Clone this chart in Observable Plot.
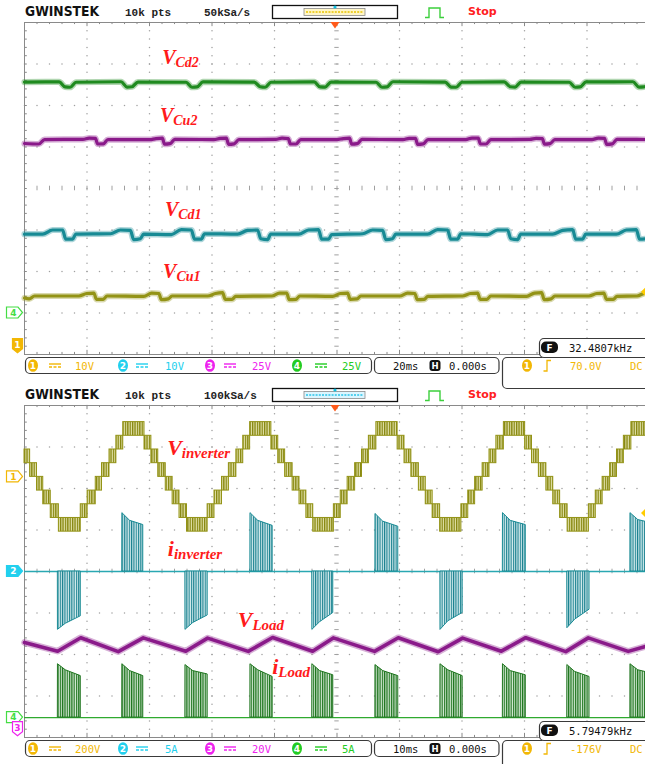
<!DOCTYPE html>
<html>
<head>
<meta charset="utf-8">
<script src="https://cdn.jsdelivr.net/npm/d3@7"></script>
<script src="https://cdn.jsdelivr.net/npm/@observablehq/plot@0.6"></script>
<style>
  html, body { margin: 0; padding: 0; background: #fff; }
  #page { position: relative; width: 645px; height: 764px; overflow: hidden; background: #fff; }
  #page > svg { position: absolute; left: 0; }
</style>
</head>
<body>
<div id="page">
<svg width="0" height="0" style="position:absolute">
  <defs>
    <!-- dense PWM switching drawn as vertical hatching -->
    <pattern id="pwmOlive" patternUnits="userSpaceOnUse" width="2.4" height="10">
      <rect width="2.4" height="10" fill="#e3e3ad"/>
      <rect width="1.3" height="10" fill="#85850c"/>
    </pattern>
    <pattern id="pwmTeal" patternUnits="userSpaceOnUse" width="2.3" height="10">
      <rect width="2.3" height="10" fill="#d2eaec"/>
      <rect width="1.1" height="10" fill="#1b8290"/>
    </pattern>
    <pattern id="pwmGreen" patternUnits="userSpaceOnUse" width="2.3" height="10">
      <rect width="2.3" height="10" fill="#d3e8d3"/>
      <rect width="1.2" height="10" fill="#1f761f"/>
    </pattern>
  </defs>
</svg>
</div>
<script>
// ================= Capture A: capacitor voltages, 20 ms/div =================
const capMsPerDiv = 20;

// VCd2 (CH4)
const capVCd2T = [0, 11.1, 13.0, 14.6, 16.5, 30.9, 32.8, 34.4, 36.3, 51.7, 53.6, 55.2, 57.1, 73.5, 75.4, 77.0, 78.9, 92.7, 94.6, 96.2, 98.1, 112.5, 114.4, 116.0, 117.9, 134.6, 136.5, 138.1, 140.0, 153.5, 155.4, 157.0, 158.9, 174.3, 176.2, 177.8, 179.7, 194.7, 196.6, 198.2, 200];
const capVCd2V = [139.1, 139.2, 136.2, 136.0, 139.0, 139.3, 136.1, 136.3, 139.1, 139.0, 136.0, 136.2, 139.2, 139.1, 136.3, 136.0, 139.0, 139.2, 136.2, 136.1, 139.1, 139.0, 136.0, 136.2, 139.3, 139.1, 136.1, 136.0, 139.0, 139.2, 136.3, 136.1, 139.1, 139.0, 136.0, 136.2, 139.2, 139.3, 136.1, 136.2, 138.0];

// VCu2 (CH3)
const capVCu2T = [0, 4.6, 6.4, 18.7, 20.7, 22.7, 23.4, 25.2, 26.7, 40.1, 42.1, 44.1, 44.8, 46.6, 48.1, 60.6, 62.6, 64.6, 65.3, 67.1, 68.6, 80.4, 82.4, 84.4, 85.1, 86.9, 88.4, 100.0, 102.0, 104.0, 104.7, 106.5, 108.0, 121.1, 123.1, 125.1, 125.8, 127.6, 129.1, 141.2, 143.2, 145.2, 145.9, 147.7, 149.2, 161.7, 163.7, 165.7, 166.4, 168.2, 169.7, 181.6, 183.6, 185.6, 186.3, 188.1, 189.6, 200];
const capVCu2V = [149.6, 149.3, 152.0, 152.1, 152.8, 152.7, 149.3, 149.4, 152.0, 151.9, 152.6, 152.8, 149.2, 149.5, 152.1, 152.0, 152.7, 152.9, 149.1, 149.4, 151.9, 152.1, 152.8, 152.6, 149.3, 149.3, 152.0, 152.0, 152.6, 152.8, 149.2, 149.5, 152.1, 151.9, 152.7, 152.7, 149.1, 149.4, 152.0, 152.0, 152.9, 152.8, 149.3, 149.3, 151.9, 152.1, 152.7, 152.6, 149.2, 149.5, 152.0, 152.0, 152.8, 152.7, 149.1, 149.4, 152.1, 152.0];

// VCd1 (CH2)
const capVCd1T = [0, 5.8, 9.0, 12.2, 13.2, 15.4, 16.4, 27.5, 30.7, 33.9, 34.9, 37.1, 38.1, 47.0, 50.2, 53.4, 54.4, 56.6, 57.6, 68.2, 71.4, 74.6, 75.6, 77.8, 78.8, 87.7, 90.9, 94.1, 95.1, 97.3, 98.3, 108.2, 111.4, 114.6, 115.6, 117.8, 118.8, 129.0, 132.2, 135.4, 136.4, 138.6, 139.6, 148.2, 151.4, 154.6, 155.6, 157.8, 158.8, 169.0, 172.2, 175.4, 176.4, 178.6, 179.6, 189.4, 192.6, 195.8, 196.8, 199.0, 200];
const capVCd1V = [38.0, 38.0, 39.0, 39.0, 36.8, 36.8, 38.0, 38.1, 39.0, 38.9, 36.7, 36.9, 38.0, 37.9, 39.1, 39.0, 36.8, 36.8, 38.1, 38.0, 38.9, 39.0, 36.9, 36.7, 38.0, 38.0, 39.0, 39.1, 36.8, 36.8, 37.9, 38.1, 39.0, 38.9, 36.7, 36.9, 38.0, 38.0, 39.1, 39.0, 36.8, 36.8, 38.1, 37.9, 39.0, 39.0, 36.9, 36.7, 38.0, 38.0, 38.9, 39.1, 36.8, 36.8, 38.0, 38.0, 39.0, 39.1, 36.8, 36.9, 37.4];

// VCu1 (CH1)
const capVCu1T = [0, 1.5, 3.2, 17.4, 19.9, 22.2, 23.0, 25.2, 26.4, 38.2, 40.7, 43.0, 43.8, 46.0, 47.2, 58.6, 61.1, 63.4, 64.2, 66.4, 67.6, 79.1, 81.6, 83.9, 84.7, 86.9, 88.1, 98.6, 101.1, 103.4, 104.2, 106.4, 107.6, 120.1, 122.6, 124.9, 125.7, 127.9, 129.1, 140.2, 142.7, 145.0, 145.8, 148.0, 149.2, 160.7, 163.2, 165.5, 166.3, 168.5, 169.7, 180.6, 183.1, 185.4, 186.2, 188.4, 189.6, 196.0, 198.5, 200];
const capVCu1V = [11.6, 11.4, 12.1, 12.1, 12.7, 12.8, 11.3, 11.3, 12.1, 12.0, 12.8, 12.7, 11.2, 11.4, 12.1, 12.1, 12.7, 12.9, 11.3, 11.3, 12.0, 12.1, 12.8, 12.8, 11.2, 11.3, 12.1, 12.0, 12.7, 12.8, 11.3, 11.4, 12.1, 12.1, 12.8, 12.7, 11.2, 11.3, 12.0, 12.1, 12.7, 12.8, 11.3, 11.3, 12.1, 12.0, 12.8, 12.9, 11.2, 11.4, 12.1, 12.1, 12.7, 12.8, 11.3, 11.3, 12.0, 12.1, 12.8, 12.9];

// channel settings: ground position (div) and volts per division
const capCh1 = {pos: -3.8, scale: 10};
const capCh2 = {pos: -4.9, scale: 10};
const capCh3 = {pos: -4.9, scale: 25};
const capCh4 = {pos: -3.0, scale: 25};

const capLabels = [
  {main: "V", sub: "Cd2", t: 44.2, y: 2.98},
  {main: "V", sub: "Cu2", t: 43.5, y: 1.59},
  {main: "V", sub: "Cd1", t: 45.1, y: -0.68},
  {main: "V", sub: "Cu1", t: 44.5, y: -2.17}
];

// ================= Capture B: inverter & load, 10 ms/div =================
const invMsPerDiv = 10;

// staircase output: band edges (ms) and lower level index of each band
const invEdges = [0, 0.9, 2.0, 3.0, 4.2, 5.5, 9.0, 10.1, 11.4, 12.4, 13.6, 14.7, 15.8, 19.2, 20.3, 21.4, 22.6, 23.7, 24.8, 26.0, 29.3, 30.4, 31.6, 32.7, 33.9, 35.0, 36.1, 39.5, 40.6, 41.7, 42.9, 44.0, 45.1, 46.2, 49.5, 50.6, 51.7, 52.9, 54.0, 55.1, 56.3, 59.7, 60.8, 61.9, 63.1, 64.2, 65.3, 66.5, 69.9, 71.0, 72.1, 73.3, 74.4, 75.5, 76.7, 80.1, 81.2, 82.3, 83.5, 84.6, 85.7, 86.9, 90.3, 91.4, 92.5, 93.7, 94.8, 95.9, 97.1, 100];
const invLevel = [1, 0, -1, -2, -3, -4,
  -3, -2, -1, 0, 1, 2, 3,  2, 1, 0, -1, -2, -3, -4,
  -3, -2, -1, 0, 1, 2, 3,  2, 1, 0, -1, -2, -3, -4,
  -3, -2, -1, 0, 1, 2, 3,  2, 1, 0, -1, -2, -3, -4,
  -3, -2, -1, 0, 1, 2, 3,  2, 1, 0, -1, -2, -3, -4,
  -3, -2, -1, 0, 1, 2, 3];
const cellVolts = 66;

// switching bursts (ms): start, knee, end
const burstStart = [5.4, 15.7, 25.8, 36.2, 46.1, 56.2, 66.6, 76.6, 86.9, 97.0];
const burstKnee  = [6.6, 16.9, 27.0, 37.4, 47.3, 57.4, 67.8, 77.8, 88.1, 98.2];
const burstEnd   = [9.0, 19.0, 29.3, 39.7, 49.4, 59.8, 70.1, 80.2, 90.4, 100.4];

// inverter current envelope (A)
const iInvPeak = [-7.0, 7.0, -7.0, 7.0, -7.0, 6.9, -7.0, 7.0, -6.8, 7.0];
const iInvKnee = [-6.3, 6.1, -6.2, 6.1, -6.1, 6.0, -6.0, 6.1, -5.8, 6.2];
const iInvTail = [-5.4, 5.6, -5.3, 5.5, -5.0, 5.4, -5.0, 5.6, -4.6, 5.8];

// load current envelope (A)
const iLoadPeak = [6.4, 6.4, 6.3, 6.4, 6.4, 6.3, 6.4, 6.4, 6.3, 6.4];
const iLoadKnee = [5.7, 5.6, 5.6, 5.7, 5.6, 5.6, 5.7, 5.6, 5.5, 5.7];
const iLoadTail = [5.0, 5.0, 5.2, 4.9, 5.1, 5.0, 5.0, 5.1, 4.9, 5.3];

// load voltage (V)
const vLoadT = [0, 5.3, 9.0, 15.0, 19.0, 25.8, 29.3, 35.8, 39.7, 46.1, 49.4, 56.0, 59.8, 66.2, 70.1, 76.3, 80.2, 86.6, 90.2, 96.6, 100];
const vLoadV = [41.8, 37.6, 44.1, 37.4, 44.0, 37.6, 43.9, 37.5, 44.2, 37.6, 44.0, 37.5, 44.1, 37.3, 43.9, 37.6, 44.1, 37.4, 44.0, 37.5, 40.4];

const invCh1 = {pos: 2.28, scale: 200};
const invCh2 = {pos: 0, scale: 5};
const invCh3 = {pos: -3.8, scale: 20};
const invCh4 = {pos: -3.52, scale: 5};

const invLabels = [
  {main: "V", sub: "inverter", t: 22.9, y: 2.80},
  {main: "i", sub: "inverter", t: 23.0, y: 0.35},
  {main: "V", sub: "Load", t: 34.2, y: -1.36},
  {main: "i", sub: "Load", t: 39.7, y: -2.47}
];

// ================= drawing =================
const COL = {
  olive: "#939316", teal: "#178a94", purple: "#8a1a8a", green: "#1f8a1f",
  tealBase: "#2aa8b2", greenBase: "#2faa2f",
  ch1: "#f2b705", ch2: "#22d0ee", ch3: "#ee22ee", ch4: "#22cc22"
};

function graticule(m) {
  const fx = d3.range(0, 51).map(i => i / 5);
  const fy = d3.range(-20, 21).map(i => i / 5);
  const rows = [-3, -2, -1, 1, 2, 3].flatMap(r => fx.map(d => ({x: d * m, y: r})));
  const cols = [1, 2, 3, 4, 6, 7, 8, 9].flatMap(c => fy.map(d => ({x: c * m, y: d})));
  const g = "#a0a0a0", e = "#8a8a8a";
  return [
    Plot.dot([...rows, ...cols], {x: "x", y: "y", r: 0.75, fill: g}),
    Plot.ruleX(fx, {x: d => d * m, y1: -0.055, y2: 0.055, stroke: g}),
    Plot.ruleY(fy, {y: d => d, x1: 5 * m - 0.035 * m, x2: 5 * m + 0.035 * m, stroke: g}),
    Plot.ruleX([0], {stroke: e}),
    Plot.ruleY([-4, 4], {stroke: e}),
    Plot.ruleX(fx, {x: d => d * m, y1: 4, y2: d => Number.isInteger(d) ? 3.9 : 3.95, stroke: e}),
    Plot.ruleX(fx, {x: d => d * m, y1: -4, y2: d => Number.isInteger(d) ? -3.9 : -3.95, stroke: e}),
    Plot.ruleY(fy, {y: d => d, x1: 0, x2: 0.045 * m, stroke: e})
  ];
}

function trace(T, V, ch, color, w = 3.2, curve = "monotone-x") {
  const data = T.map((t, i) => ({t, v: V[i]}));
  const y = d => ch.pos + d.v / ch.scale;
  return [
    Plot.line(data, {x: "t", y, curve, stroke: color, strokeWidth: w + 3, strokeOpacity: 0.35}),
    Plot.line(data, {x: "t", y, curve, stroke: color, strokeWidth: w})
  ];
}

function bursts(peak, knee, tail, ch, fill, color) {
  const pts = burstStart.flatMap((s, g) => [
    {g, t: s, v: peak[g]}, {g, t: burstKnee[g], v: knee[g]}, {g, t: burstEnd[g], v: tail[g]}
  ]);
  return Plot.area(pts, {
    x1: "t", y1: () => ch.pos, y2: d => ch.pos + d.v / ch.scale, z: "g",
    fill, stroke: color, strokeWidth: 1
  });
}

function panel(m, marks) {
  const svg = Plot.plot({
    width: 650, height: 360,
    marginLeft: 24, marginRight: 1, marginTop: 22, marginBottom: 6,
    x: {domain: [0, 10 * m], axis: null},
    y: {domain: [-4, 4], axis: null},
    marks: [...graticule(m), ...marks]
  });
  svg.style.maxWidth = "none";
  svg.style.width = "650px";
  svg.style.height = "360px";
  svg.style.background = "transparent";
  return svg;
}

const plotA = panel(capMsPerDiv, [
  ...trace(capVCd2T, capVCd2V, capCh4, COL.green),
  ...trace(capVCu2T, capVCu2V, capCh3, COL.purple),
  ...trace(capVCd1T, capVCd1V, capCh2, COL.teal),
  ...trace(capVCu1T, capVCu1V, capCh1, COL.olive)
]);

const bands = invLevel.map((k, i) => ({t1: invEdges[i], t2: invEdges[i + 1], lo: k * cellVolts, hi: (k + 1) * cellVolts}));

const plotB = panel(invMsPerDiv, [
  Plot.rect(bands, {
    x1: "t1", x2: "t2",
    y1: d => invCh1.pos + d.lo / invCh1.scale, y2: d => invCh1.pos + d.hi / invCh1.scale,
    fill: "url(#pwmOlive)", stroke: COL.olive, strokeWidth: 1
  }),
  Plot.ruleY([0], {y: d => invCh2.pos + d / invCh2.scale, stroke: COL.tealBase, strokeWidth: 1.4}),
  bursts(iInvPeak, iInvKnee, iInvTail, invCh2, "url(#pwmTeal)", COL.teal),
  ...trace(vLoadT, vLoadV, invCh3, COL.purple, 3.6, "linear"),
  Plot.ruleY([0], {y: d => invCh4.pos + d / invCh4.scale, stroke: COL.greenBase, strokeWidth: 1.4}),
  bursts(iLoadPeak, iLoadKnee, iLoadTail, invCh4, "url(#pwmGreen)", "#1f761f")
]);

const page = d3.select("#page");
plotA.style.top = "0px";
plotB.style.top = "383px";
page.node().append(plotA, plotB);

// ---------- scope chrome overlay ----------
const ov = page.append("svg").attr("width", 645).attr("height", 764).style("top", "0px");
const MONO = "'DejaVu Sans Mono', monospace";

function header(oy, rate, memFill, memLine) {
  const g = ov.append("g").attr("transform", `translate(0,${oy})`);
  g.append("text").attr("x", 25).attr("y", 16).attr("font-family", "'DejaVu Sans', sans-serif")
    .attr("font-weight", "bold").attr("font-size", 13.5).attr("textLength", 74)
    .attr("lengthAdjust", "spacingAndGlyphs").attr("fill", "#111").text("GWINSTEK");
  g.append("text").attr("x", 125).attr("y", 15.5).attr("font-family", "'Liberation Mono', monospace")
    .attr("font-weight", "bold").attr("font-size", 11).attr("fill", "#222").text("10k pts");
  g.append("text").attr("x", 204).attr("y", 15.5).attr("font-family", "'Liberation Mono', monospace")
    .attr("font-weight", "bold").attr("font-size", 11).attr("fill", "#222").text(rate);
  g.append("rect").attr("x", 272.5).attr("y", 5.5).attr("width", 125).attr("height", 13)
    .attr("fill", "#fff").attr("stroke", "#111").attr("stroke-width", 1.3);
  g.append("rect").attr("x", 304).attr("y", 8.5).attr("width", 61).attr("height", 7)
    .attr("fill", memFill).attr("stroke", "#8a8a8a").attr("stroke-width", 0.8);
  g.append("line").attr("x1", 306).attr("x2", 363).attr("y1", 12).attr("y2", 12)
    .attr("stroke", memLine).attr("stroke-width", 1.4).attr("stroke-dasharray", "2 1.2");
  g.append("circle").attr("cx", 335).attr("cy", 7).attr("r", 1.6).attr("fill", "#10c0e0");
  g.append("path").attr("d", "M425,17.5 H429 V8 H440 V17.5 H444").attr("fill", "none")
    .attr("stroke", "#3ccf3c").attr("stroke-width", 1.4);
  g.append("text").attr("x", 468).attr("y", 15).attr("font-family", "'DejaVu Sans', sans-serif")
    .attr("font-weight", "bold").attr("font-size", 11).attr("fill", "#ff2020").text("Stop");
  g.append("path").attr("d", "M330.5,22 H339.5 L335,28.5 Z").attr("fill", "#ff5a1a");
}

function chip(g, cx, cy, color, digit) {
  g.append("ellipse").attr("cx", cx).attr("cy", cy).attr("rx", 5).attr("ry", 6.3).attr("fill", color);
  g.append("text").attr("x", cx).attr("y", cy + 3.3).attr("text-anchor", "middle")
    .attr("font-family", "'DejaVu Sans', sans-serif").attr("font-weight", "bold")
    .attr("font-size", 9).attr("fill", "#fff").text(digit);
}

function statusBar(oy, scales, tdiv, delay, trigLevel, freq) {
  const y0 = oy + 357;
  const g = ov.append("g");
  const box = (x, y, w, h) => g.append("rect").attr("x", x).attr("y", y).attr("width", w).attr("height", h)
    .attr("rx", 4.5).attr("fill", "#fff").attr("stroke", "#3a3a3a").attr("stroke-width", 1.2);
  box(502.5, y0 + 0.5, 160, 31);
  box(539.5, y0 - 18.5, 120, 19);
  box(25.5, y0 + 0.5, 346, 16);
  box(374.5, y0 + 0.5, 124.5, 16);
  const cols = [COL.ch1, COL.ch2, COL.ch3, COL.ch4];
  const cx = [33, 123, 210, 297], dcx = [49, 136, 224, 315], vx = [75, 165, 252, 342];
  scales.forEach((s, i) => {
    chip(g, cx[i], y0 + 8.5, cols[i], String(i + 1));
    g.append("line").attr("x1", dcx[i]).attr("x2", dcx[i] + 12).attr("y1", y0 + 7).attr("y2", y0 + 7)
      .attr("stroke", cols[i]).attr("stroke-width", 1.4);
    g.append("line").attr("x1", dcx[i]).attr("x2", dcx[i] + 12).attr("y1", y0 + 10).attr("y2", y0 + 10)
      .attr("stroke", cols[i]).attr("stroke-width", 1.4).attr("stroke-dasharray", "3 1.5");
    g.append("text").attr("x", vx[i]).attr("y", y0 + 12.5).attr("font-family", MONO)
      .attr("font-size", 10.5).attr("fill", cols[i]).text(s);
  });
  g.append("text").attr("x", 393).attr("y", y0 + 12.5).attr("font-family", MONO).attr("font-size", 10.5)
    .attr("fill", "#111").text(tdiv);
  g.append("rect").attr("x", 429.5).attr("y", y0 + 3).attr("width", 11).attr("height", 11).attr("rx", 3).attr("fill", "#111");
  g.append("text").attr("x", 435).attr("y", y0 + 12).attr("text-anchor", "middle").attr("font-family", "'DejaVu Sans', sans-serif")
    .attr("font-weight", "bold").attr("font-size", 8.5).attr("fill", "#fff").text("H");
  g.append("text").attr("x", 449).attr("y", y0 + 12.5).attr("font-family", MONO).attr("font-size", 10.5)
    .attr("fill", "#111").text(delay);
  chip(g, 527, y0 + 8.5, COL.ch1, "1");
  g.append("path").attr("d", `M543.5,${y0 + 14} H547 V${y0 + 3.5} H551`).attr("fill", "none")
    .attr("stroke", COL.ch1).attr("stroke-width", 1.3);
  g.append("text").attr("x", 570).attr("y", y0 + 12.5).attr("font-family", MONO).attr("font-size", 10.5)
    .attr("fill", COL.ch1).text(trigLevel);
  g.append("text").attr("x", 630).attr("y", y0 + 12.5).attr("font-family", MONO).attr("font-size", 10.5)
    .attr("fill", COL.ch1).text("DC");
  g.append("rect").attr("x", 541).attr("y", y0 - 15.5).attr("width", 17).attr("height", 11.5).attr("rx", 5).attr("fill", "#111");
  g.append("text").attr("x", 549.5).attr("y", y0 - 6).attr("text-anchor", "middle").attr("font-family", "'DejaVu Sans', sans-serif")
    .attr("font-weight", "bold").attr("font-size", 9).attr("fill", "#fff").text("F");
  g.append("text").attr("x", 569).attr("y", y0 - 5.5).attr("font-family", MONO).attr("font-size", 10.5)
    .attr("fill", "#111").text(freq);
}

function drawLabels(plot, top, labels, mainSize, subSize) {
  const sx = plot.scale("x"), sy = plot.scale("y");
  labels.forEach(l => {
    const t = ov.append("text").attr("x", sx.apply(l.t)).attr("y", top + sy.apply(l.y))
      .attr("fill", "#ff1a1a").attr("font-family", "'Liberation Serif', 'Times New Roman', serif")
      .attr("font-weight", "bold").attr("font-style", "italic");
    t.append("tspan").attr("font-size", mainSize).text(l.main);
    t.append("tspan").attr("font-size", subSize).attr("dy", 3).text(l.sub);
  });
}

function drawMarkers(plot, top, markers) {
  const sy = plot.scale("y");
  markers.forEach(m => {
    const y = top + sy.apply(m.ch.pos);
    const d = m.shape === "tag"
      ? `M6.5,${y - 5.5} H18 L22.5,${y} L18,${y + 5.5} H6.5 Z`
      : `M12.5,${y - 7} H22.5 V${y + 3} L17.5,${y + 7} L12.5,${y + 3} Z`;
    ov.append("path").attr("d", d).attr("fill", m.filled ? m.color : "#fff")
      .attr("stroke", m.color).attr("stroke-width", 1.2);
    ov.append("text").attr("x", m.shape === "tag" ? 13.5 : 17.5).attr("y", y + (m.shape === "tag" ? 3.3 : 2.5))
      .attr("text-anchor", "middle").attr("font-family", "'DejaVu Sans', sans-serif").attr("font-weight", "bold")
      .attr("font-size", 9).attr("fill", m.filled ? "#fff" : m.color).text(m.digit);
  });
}

function diamond(plot, top, level) {
  const y = top + plot.scale("y").apply(level);
  ov.append("path").attr("d", `M641,${y} L646,${y - 5} L651,${y} L646,${y + 5} Z`).attr("fill", "#ffcc00");
}

header(0, "50kSa/s", "#fff6c8", "#e8c400");
header(383, "100kSa/s", "#dcf6ff", "#28c4e8");
statusBar(0, ["10V", "10V", "25V", "25V"], "20ms", "0.000s", "70.0V", "32.4807kHz");
statusBar(383, ["200V", "5A", "20V", "5A"], "10ms", "0.000s", "-176V", "5.79479kHz");

drawMarkers(plotA, 0, [
  {ch: capCh4, shape: "tag", filled: false, color: "#44dd44", digit: "4"},
  {ch: capCh1, shape: "shield", filled: true, color: COL.ch1, digit: "1"}
]);
drawMarkers(plotB, 383, [
  {ch: invCh1, shape: "tag", filled: false, color: COL.ch1, digit: "1"},
  {ch: invCh2, shape: "tag", filled: true, color: COL.ch2, digit: "2"},
  {ch: invCh4, shape: "tag", filled: false, color: "#44dd44", digit: "4"},
  {ch: invCh3, shape: "shield", filled: false, color: COL.ch3, digit: "3"}
]);
diamond(plotA, 0, -2.5);
diamond(plotB, 383, invCh1.pos + (-176) / invCh1.scale);

drawLabels(plotA, 0, capLabels, 20, 14);
drawLabels(plotB, 383, invLabels, 22, 15);
</script>
</body>
</html>
